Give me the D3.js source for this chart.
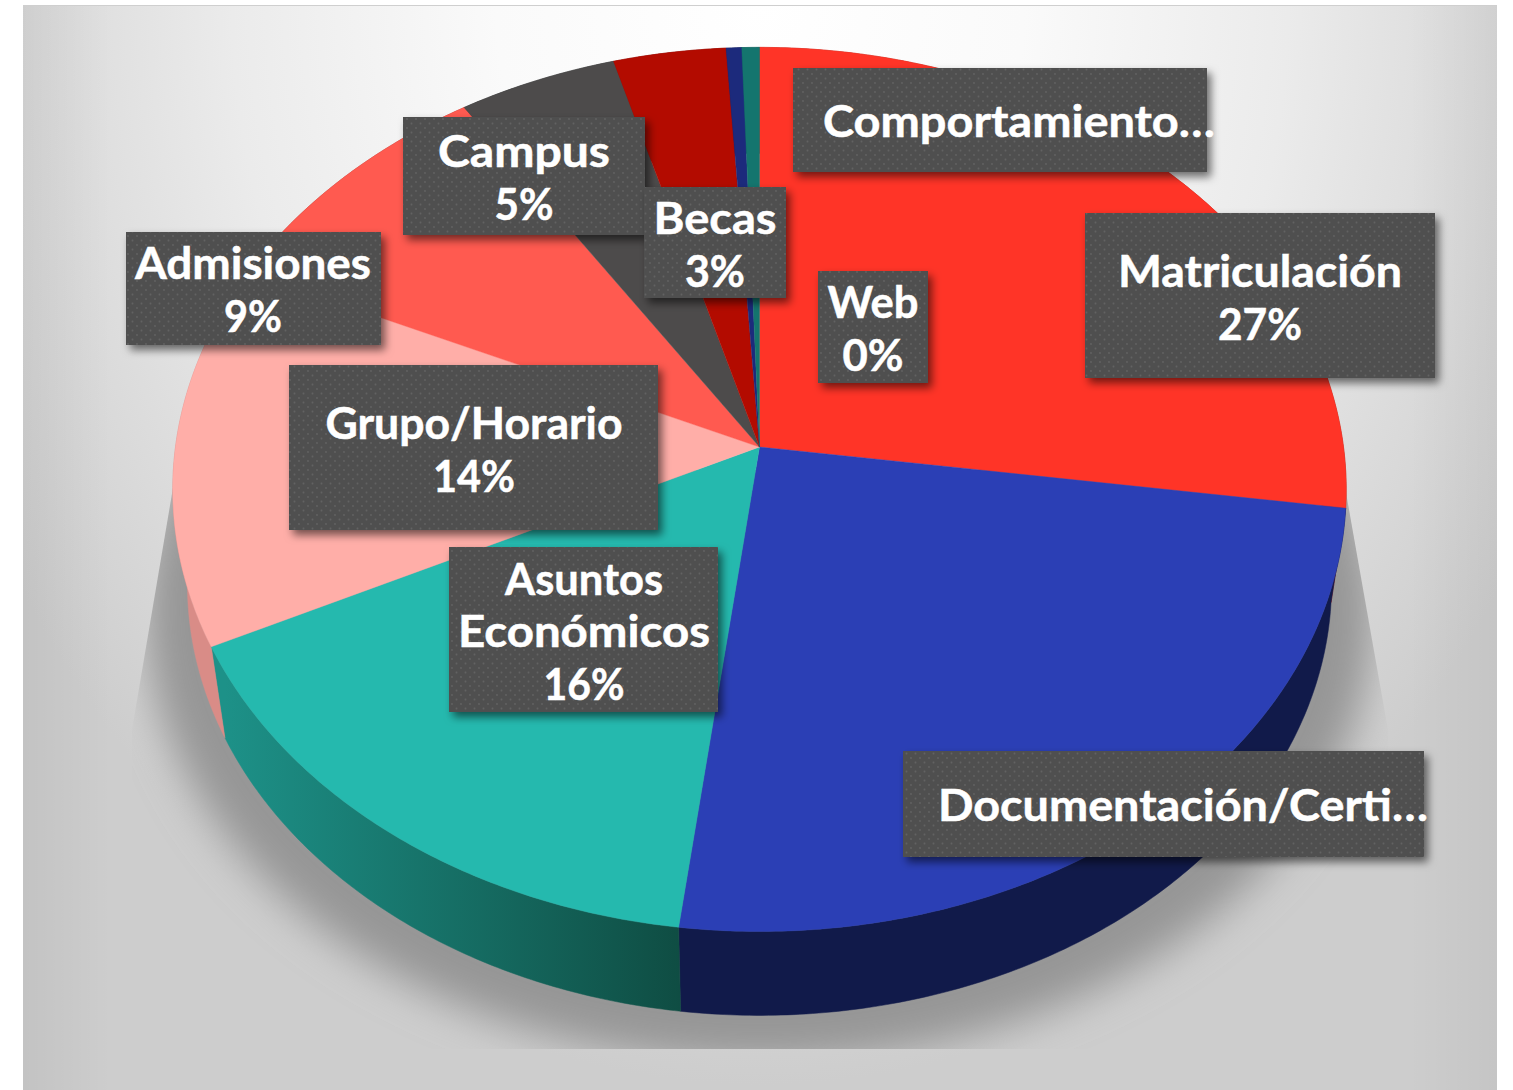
<!DOCTYPE html>
<html><head><meta charset="utf-8">
<script src="https://cdn.jsdelivr.net/npm/d3@7"></script>
<style>html,body{margin:0;padding:0;background:#fff;overflow:hidden}svg{display:block}</style>
</head><body><div id="chart"></div>
<script>
const categories=["Matriculación","Documentación/Certi…","Asuntos Económicos","Grupo/Horario","Admisiones","Campus","Becas","Web","Comportamiento…"];
const values=[27.2,24.8,15.8,14.0,9.0,4.8,3.4,0.47,0.53];
const topColors=["#ff3427","#2b3fb5","#25b9ae","#ffaea8","#ff5a50","#4d4b4b","#b30b00","#1c2a7c","#14756e"];
const sideFrom=["#b02018","#141f5a","#1d9188","#d98c87","#b03a33","#333","#7a0800","#101a50","#0c4f49"];
const sideTo=["#b02018","#111a4a","#0f4d43","#d98c87","#b03a33","#333","#7a0800","#101a50","#0c4f49"];

const W=1513,H=1090;
const svg=d3.select("#chart").append("svg").attr("width",W).attr("height",H);
const defs=svg.append("defs");

// background
const bg=defs.append("radialGradient").attr("id","bg").attr("gradientUnits","userSpaceOnUse")
 .attr("cx",0).attr("cy",0).attr("r",1).attr("gradientTransform","translate(760,0) scale(880,1085)");
[[0,"#ffffff"],[.3,"#fafafa"],[.6,"#ebebeb"],[.8,"#dcdcdc"],[1,"#cdcdcd"]].forEach(s=>bg.append("stop").attr("offset",s[0]).attr("stop-color",s[1]));
svg.append("rect").attr("x",23).attr("y",6).attr("width",1474).attr("height",1084).attr("fill","url(#bg)");
const edge=defs.append("linearGradient").attr("id","edge");
[[0,.05],[.06,0],[.94,0],[1,.04]].forEach(s=>edge.append("stop").attr("offset",s[0]).attr("stop-color","#000").attr("stop-opacity",s[1]));
svg.append("rect").attr("x",23).attr("y",6).attr("width",1474).attr("height",1084).attr("fill","url(#edge)");
svg.append("rect").attr("x",23).attr("y",5).attr("width",1474).attr("height",1).attr("fill","#cfcfcf");

// projection of the tilted pie
const cx=759.5,cy=447,A=584,B=438,P=0.096,S=0.975,D=96;
const proj=(t,lower)=>{const w=1+P*Math.cos(t),s=lower?S:1,d=lower?D:0;
 return [cx+s*A*Math.sin(t)/w, cy+d-s*B*Math.cos(t)/w];};
const arcs=d3.pie().sort(null)(values);
const samples=(a,b)=>{const n=Math.max(2,Math.ceil((b-a)/0.01));return d3.range(n+1).map(i=>a+(b-a)*i/n);};
const line=d3.line();

// shadow under the pie
defs.append("filter").attr("id","sblur").attr("x","-20%").attr("y","-20%").attr("width","140%").attr("height","140%")
 .append("feGaussianBlur").attr("stdDeviation",20);
defs.append("clipPath").attr("id","sclip").append("polygon")
 .attr("points","176,470 1342,470 1388,730 1388,1049 132,1049 132,730");
const allT=samples(0,2*Math.PI);
svg.append("g").attr("clip-path","url(#sclip)").append("path")
 .attr("d",line(allT.map(t=>{const p=proj(t,true);return [cx+(p[0]-cx)*1.075,cy+D+24+(p[1]-cy-D)*1.05];}))+"Z")
 .attr("fill","#969696").attr("filter","url(#sblur)");

// side walls
arcs.forEach((d,i)=>{
 const g=defs.append("linearGradient").attr("id","side"+i).attr("gradientUnits","userSpaceOnUse")
  .attr("x1",225).attr("x2",680).attr("y1",0).attr("y2",0);
 g.append("stop").attr("offset",0).attr("stop-color",sideFrom[i]);
 g.append("stop").attr("offset",1).attr("stop-color",sideTo[i]);
 const ts=samples(d.startAngle,d.endAngle);
 const pts=ts.map(t=>proj(t,false)).concat(ts.slice().reverse().map(t=>proj(t,true)));
 svg.append("path").attr("d",line(pts)+"Z").attr("fill",`url(#side${i})`)
  .attr("stroke",`url(#side${i})`).attr("stroke-width",.5);
});
// top face
arcs.forEach((d,i)=>{
 const pts=[[cx,cy]].concat(samples(d.startAngle,d.endAngle).map(t=>proj(t,false)));
 svg.append("path").attr("d",line(pts)+"Z").attr("fill",topColors[i]).attr("stroke",topColors[i]).attr("stroke-width",.4);
});

// labels
const pat=defs.append("pattern").attr("id","dots").attr("patternUnits","userSpaceOnUse").attr("width",9).attr("height",9);
pat.append("rect").attr("width",9).attr("height",9).attr("fill","#505050");
pat.append("circle").attr("cx",2).attr("cy",2).attr("r",.9).attr("fill","#626262");
pat.append("circle").attr("cx",6.5).attr("cy",6.5).attr("r",.9).attr("fill","#626262");
const sh=defs.append("filter").attr("id","bshadow").attr("x","-10%").attr("y","-15%").attr("width","125%").attr("height","140%");
sh.append("feDropShadow").attr("dx",4).attr("dy",5).attr("stdDeviation",4).attr("flood-color","#000").attr("flood-opacity",.55);

const fmt=v=>d3.format(".0f")(v)+"%";
// placement by category index: box [x0,y0,x1,y1], text anchor x, baselines, line widths
const place={
 8:{b:[793,68,1207,172],x:823,a:"start",y:[137],w:[392],lines:()=>[categories[8]]},
 0:{b:[1085,213,1435,378],x:1260,y:[287,340],w:[284,84]},
 7:{b:[818,271,928,383],x:873,y:[318,371],w:[91,61]},
 5:{b:[403,117,645,235],x:524,y:[167,220],w:[172,59]},
 6:{b:[644,187,786,298],x:715,y:[234,287],w:[123,60]},
 4:{b:[126,232,381,345],x:253,y:[279,332],w:[236,58]},
 3:{b:[289,365,658,530],x:474,y:[439,492],w:[297,82]},
 2:{b:[449,547,718,712],x:584,y:[595,647,700],w:[158,252,81],lines:()=>[...categories[2].split(" "),fmt(values[2])]},
 1:{b:[903,751,1424,857],x:938,a:"start",y:[821],w:[490],lines:()=>[categories[1]]}
};
[8,0,7,5,6,4,3,2,1].forEach(i=>{
 const p=place[i],lines=p.lines?p.lines():[categories[i],fmt(values[i])];
 const g=svg.append("g");
 g.append("rect").attr("x",p.b[0]).attr("y",p.b[1]).attr("width",p.b[2]-p.b[0]).attr("height",p.b[3]-p.b[1])
  .attr("fill","url(#dots)").attr("filter","url(#bshadow)");
 lines.forEach((t,k)=>g.append("text").attr("x",p.x).attr("y",p.y[k]).attr("text-anchor",p.a||"middle")
  .attr("font-family","Lato, 'Open Sans', sans-serif").attr("font-weight",700).attr("font-size",44)
  .attr("textLength",p.w[k]).attr("lengthAdjust","spacingAndGlyphs").attr("fill","#fff")
  .attr("stroke","#fff").attr("stroke-width",.5).text(t));
});
</script></body></html>
